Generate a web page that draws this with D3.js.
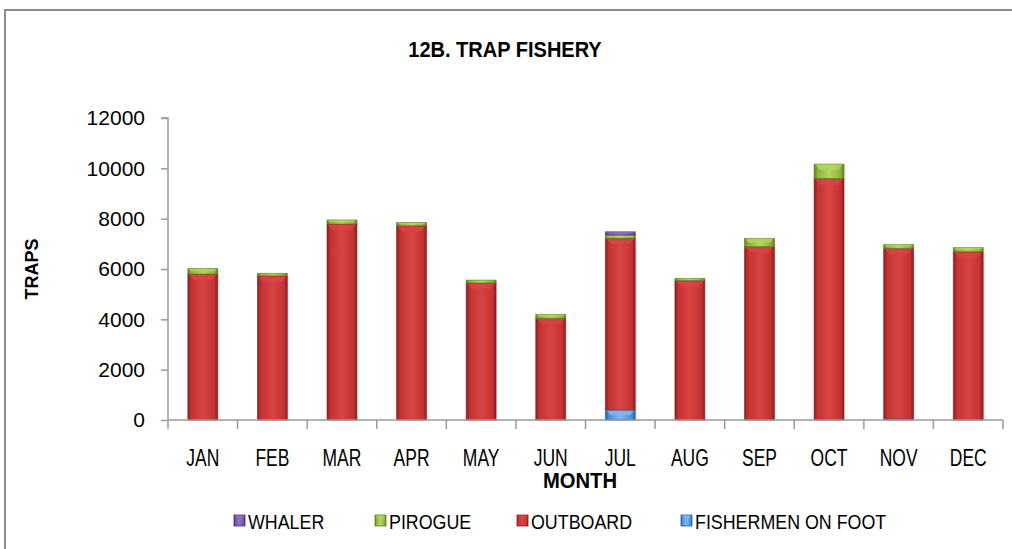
<!DOCTYPE html>
<html>
<head>
<meta charset="utf-8">
<script src="https://cdn.jsdelivr.net/npm/d3@7/dist/d3.min.js"></script>
<style>
  html, body { margin: 0; padding: 0; background: #fff; }
  svg { display: block; }
  text { font-family: "Liberation Sans", Arial, sans-serif; }
</style>
</head>
<body>
<svg id="chart" width="1012" height="549"></svg>
<script>
// Monthly trap counts by boat type
const months = ["JAN","FEB","MAR","APR","MAY","JUN","JUL","AUG","SEP","OCT","NOV","DEC"];
const fishermenOnFoot = [0, 0, 0, 0, 0, 0, 400, 0, 0, 0, 50, 0];
const outboard = [5800, 5730, 7790, 7720, 5450, 4040, 6820, 5540, 6890, 9600, 6770, 6690];
const pirogue  = [220, 100, 160, 130, 110, 160, 130, 90, 330, 570, 160, 160];
const whaler   = [0, 0, 0, 0, 0, 0, 130, 0, 0, 0, 0, 0];
const yTicks = [0, 2000, 4000, 6000, 8000, 10000, 12000];

const seriesNames = ["FISHERMEN ON FOOT", "OUTBOARD", "PIROGUE", "WHALER"];
const seriesValues = [fishermenOnFoot, outboard, pirogue, whaler];
const legendOrder = ["WHALER", "PIROGUE", "OUTBOARD", "FISHERMEN ON FOOT"];

// Colour ramps: edge, mid, highlight
const palette = {
  "WHALER":            { edge: "#4b3474", mid: "#7052a8", hi: "#8e74c4" },
  "PIROGUE":           { edge: "#5d7d1f", mid: "#8ab33a", hi: "#b3d660" },
  "OUTBOARD":          { edge: "#8a2020", mid: "#c43232", hi: "#d84444" },
  "FISHERMEN ON FOOT": { edge: "#2a5d9a", mid: "#4a8fd8", hi: "#7fb6ef" }
};

const svg = d3.select("#chart");
const defs = svg.append("defs");

const keyId = n => n.replace(/\s+/g, "_");
Object.entries(palette).forEach(([name, c]) => {
  const g = defs.append("linearGradient")
    .attr("id", "grad_" + keyId(name))
    .attr("x1", "0%").attr("x2", "100%").attr("y1", "0%").attr("y2", "0%");
  g.append("stop").attr("offset", "0%").attr("stop-color", c.edge);
  g.append("stop").attr("offset", "12%").attr("stop-color", c.mid);
  g.append("stop").attr("offset", "50%").attr("stop-color", c.hi);
  g.append("stop").attr("offset", "88%").attr("stop-color", c.mid);
  g.append("stop").attr("offset", "100%").attr("stop-color", c.edge);
});

// Outer frame
svg.append("rect")
  .attr("x", 5).attr("y", 10)
  .attr("width", 1020).attr("height", 560)
  .attr("fill", "none").attr("stroke", "#8c8c8c").attr("stroke-width", 2);

const plot = { left: 168, right: 1003, top: 118, bottom: 420 };

const x = d3.scaleBand().domain(months).range([plot.left, plot.right]).padding(0);
const y = d3.scaleLinear().domain([0, 12000]).range([plot.bottom, plot.top]);

// Stack data
const rows = months.map((m, i) => {
  const r = { month: m };
  seriesNames.forEach((s, k) => { r[s] = seriesValues[k][i]; });
  return r;
});
const stack = d3.stack().keys(seriesNames)(rows);

const barW = x.bandwidth() * 0.43;
const barOff = (x.bandwidth() - barW) / 2;

const gBars = svg.append("g");
stack.forEach(layer => {
  const name = layer.key;
  const c = palette[name];
  const g = gBars.append("g");
  layer.forEach(d => {
    const h = y(d[0]) - y(d[1]);
    if (h <= 0) return;
    const bx = x(d.data.month) + barOff;
    const by = y(d[1]);
    // soft shadow to the right
    g.append("rect")
      .attr("x", bx + 1.5).attr("y", by + 1)
      .attr("width", barW).attr("height", h)
      .attr("fill", "#000").attr("opacity", 0.08);
    g.append("rect")
      .attr("x", bx).attr("y", by)
      .attr("width", barW).attr("height", h)
      .attr("fill", `url(#grad_${keyId(name)})`)
      .attr("stroke", c.edge).attr("stroke-width", 0.8).attr("stroke-opacity", 0.7);
    // bevel highlight along the top of each segment
    const bev = Math.min(6, h / 2);
    if (bev > 1.5) {
      g.append("path")
        .attr("d", `M${bx + 1},${by + 0.5} L${bx + barW - 1},${by + 0.5} L${bx + barW - bev},${by + bev} L${bx + bev},${by + bev} Z`)
        .attr("fill", c.hi).attr("opacity", 0.8);
    }
  });
});

// Axes
const axisColor = "#9a9a9a";
const gAxes = svg.append("g");

const yAxis = d3.axisLeft(y).tickValues(yTicks).tickFormat(d3.format("d")).tickSize(7).tickPadding(16);
const gy = gAxes.append("g").attr("transform", `translate(${plot.left},0)`).call(yAxis);
gy.select(".domain").attr("stroke", axisColor).attr("stroke-width", 1.5).attr("d", `M-7,${plot.top}H0V${plot.bottom}`);
gy.selectAll(".tick line").attr("stroke", axisColor).attr("stroke-width", 1.5);
gy.selectAll(".tick text")
  .attr("fill", "#000")
  .style("font-family", "'Liberation Sans', Arial, sans-serif")
  .style("font-size", "21px");

const xAxis = d3.axisBottom(x).tickSize(0).tickPadding(30);
const gx = gAxes.append("g").attr("transform", `translate(0,${plot.bottom})`).call(xAxis);
gx.select(".domain").attr("stroke", axisColor).attr("stroke-width", 1.5).attr("d", `M${plot.left},0H${plot.right}`);
gx.selectAll(".tick text")
  .attr("fill", "#000")
  .attr("transform", "scale(0.76,1)")
  .style("font-family", "'Liberation Sans', Arial, sans-serif")
  .style("font-size", "23px");
// category boundary ticks
const bounds = months.map(m => x(m)).concat([plot.right]);
gx.selectAll(".bound").data(bounds).enter().append("line")
  .attr("x1", d => d).attr("x2", d => d)
  .attr("y1", 0).attr("y2", 9)
  .attr("stroke", axisColor).attr("stroke-width", 1.5);

// Title
svg.append("text")
  .attr("transform", "translate(505,57) scale(0.91,1)")
  .attr("text-anchor", "middle")
  .style("font-size", "22px").style("font-weight", "bold")
  .text("12B. TRAP FISHERY");

// Axis titles
svg.append("text")
  .attr("transform", "translate(38,269) rotate(-90)")
  .attr("text-anchor", "middle")
  .style("font-size", "18px").style("font-weight", "bold")
  .text("TRAPS");

svg.append("text")
  .attr("transform", "translate(580,488) scale(0.92,1)")
  .attr("text-anchor", "middle")
  .style("font-size", "22px").style("font-weight", "bold")
  .text("MONTH");

// Legend
const legendX = [234, 375, 517, 681];
const gLeg = svg.append("g");
legendOrder.forEach((name, i) => {
  const c = palette[name];
  const lx = legendX[i];
  gLeg.append("rect")
    .attr("x", lx).attr("y", 515)
    .attr("width", 11).attr("height", 11)
    .attr("fill", `url(#grad_${keyId(name)})`)
    .attr("stroke", c.edge).attr("stroke-width", 0.8);
  gLeg.append("path")
    .attr("d", `M${lx + 1},${515.5} L${lx + 10},${515.5} L${lx + 7},${519} L${lx + 4},${519} Z`)
    .attr("fill", c.hi).attr("opacity", 0.8);
  gLeg.append("text")
    .attr("transform", `translate(${lx + 14},529) scale(0.85,1)`)
    .style("font-size", "21px")
    .text(name);
});
</script>
</body>
</html>
